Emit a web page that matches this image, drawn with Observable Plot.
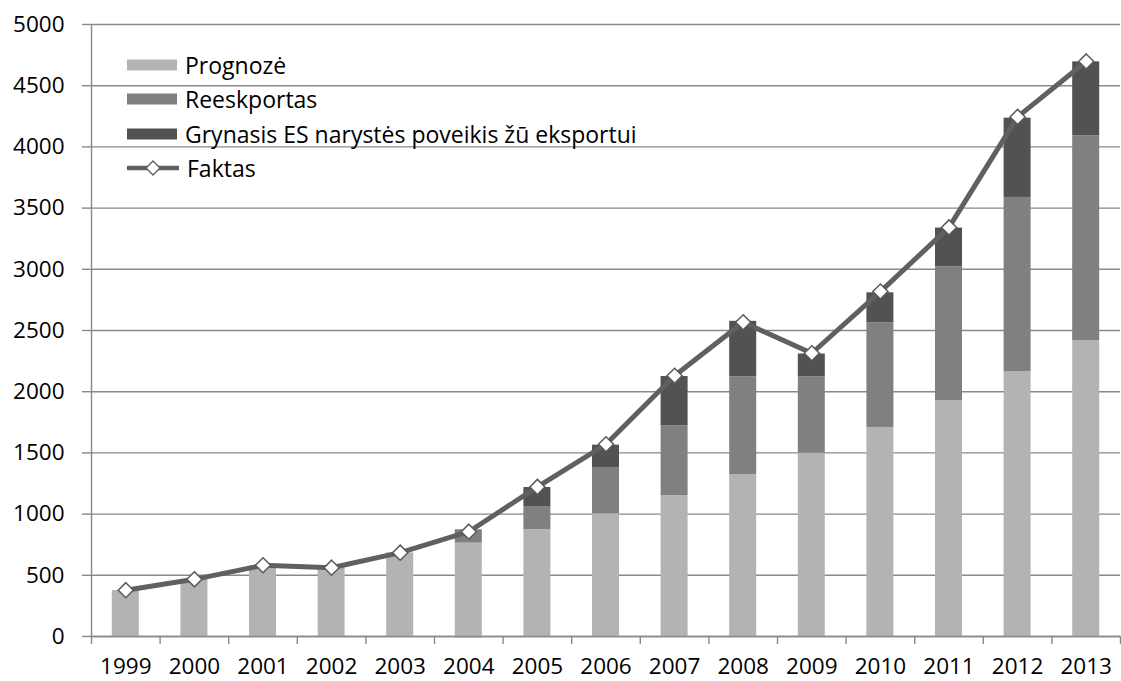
<!DOCTYPE html>
<html><head><meta charset="utf-8">
<script src="https://cdn.jsdelivr.net/npm/d3@7"></script>
<script src="https://cdn.jsdelivr.net/npm/@observablehq/plot@0.6"></script>
<style>
body{margin:0;background:#fff;}
#wrap{position:relative;width:1121px;height:681px;font-family:"Open Sans", sans-serif;}
#legend{position:absolute;left:127px;top:48px;}
.item{display:flex;align-items:center;height:34.3px;font-size:23px;color:#000;white-space:nowrap;}
.item svg{margin-right:8px;flex:none;}
</style></head>
<body><div id="wrap"><div id="chart"></div><div id="legend"></div></div>
<script>
const years = [1999,2000,2001,2002,2003,2004,2005,2006,2007,2008,2009,2010,2011,2012,2013];
const prognoze    = [375,465,578,564,683,763,872,1002,1150,1321,1498,1708,1926,2165,2416];
const reeskportas = [0,0,0,0,0,109,190,379,571,801,624,855,1094,1422,1675];
const grynasis    = [0,0,0,0,0,-10,155,182,403,453,186,245,317,648,604];
const faktas      = [378,467,582,562,685,856,1222,1570,2130,2567,2314,2818,3342,4245,4698];
const seriesNames = ["Prognozė","Reeskportas","Grynasis ES narystės poveikis žū eksportui"];
const lineName = "Faktas";
const seriesColors = ["#b3b3b3","#808080","#525252"];
const yTicks = [0,500,1000,1500,2000,2500,3000,3500,4000,4500,5000];

const seriesValues = [prognoze, reeskportas, grynasis];
const bars = [];
seriesNames.forEach((s, k) => years.forEach((yr, i) => bars.push({year: yr, series: s, value: seriesValues[k][i]})));
const lineData = years.map((yr, i) => ({year: yr, value: faktas[i]}));
const boundaries = years.map(y => y - 0.5).concat([years[years.length - 1] + 0.5]);

const gridColor = "#898989";
const plot = Plot.plot({
  width: 1121, height: 681,
  marginLeft: 91, marginRight: 1, marginTop: 24, marginBottom: 45,
  style: {fontFamily: "'Open Sans', sans-serif", fontSize: "22.5px", color: "#000", background: "#fff"},
  x: {type: "linear", domain: [years[0] - 0.5, years[years.length - 1] + 0.5]},
  y: {domain: [0, 5000]},
  color: {domain: seriesNames, range: seriesColors},
  marks: [
    Plot.ruleY(yTicks, {stroke: gridColor, strokeWidth: 1.4}),
    Plot.rectY(bars, {x1: d => d.year - 0.5, x2: d => d.year + 0.5, y: "value", fill: "series", insetLeft: 20.8, insetRight: 20.8}),
    Plot.ruleY([0], {stroke: gridColor, strokeWidth: 1.4}),
    Plot.ruleX([years[0] - 0.5], {y1: 0, y2: 5000, stroke: gridColor, strokeWidth: 1.4}),
    Plot.axisY({ticks: yTicks, tickSize: 9, tickPadding: 18, stroke: gridColor, strokeWidth: 1.4, fill: "#000", label: null, tickFormat: d => String(d)}),
    Plot.axisX({ticks: boundaries, tickSize: 8, stroke: gridColor, strokeWidth: 1.4, tickFormat: () => "", label: null}),
    Plot.axisX({ticks: years, tickSize: 0, tickPadding: 22, fill: "#000", tickFormat: d => String(d), label: null}),
    Plot.line(lineData, {x: "year", y: "value", stroke: "#606060", strokeWidth: 5}),
    Plot.dot(lineData, {x: "year", y: "value", symbol: "diamond2", r: 6.8, fill: "#fff", stroke: "#595959", strokeWidth: 1.5})
  ]
});
document.getElementById("chart").appendChild(plot);

const legend = document.getElementById("legend");
seriesNames.forEach((s, k) => {
  const div = document.createElement("div");
  div.className = "item";
  div.innerHTML = `<svg width="50" height="12"><rect x="0" y="0.5" width="50" height="11" fill="${seriesColors[k]}"/></svg><span>${s}</span>`;
  legend.appendChild(div);
});
const fdiv = document.createElement("div");
fdiv.className = "item";
fdiv.innerHTML = `<svg width="52" height="18"><line x1="1" y1="9" x2="51" y2="9" stroke="#606060" stroke-width="4.5" stroke-linecap="round"/><path d="M26,2 L33,9 L26,16 L19,9 Z" fill="#fff" stroke="#595959" stroke-width="1.3"/></svg><span>${lineName}</span>`;
legend.appendChild(fdiv);
</script>
</body></html>
